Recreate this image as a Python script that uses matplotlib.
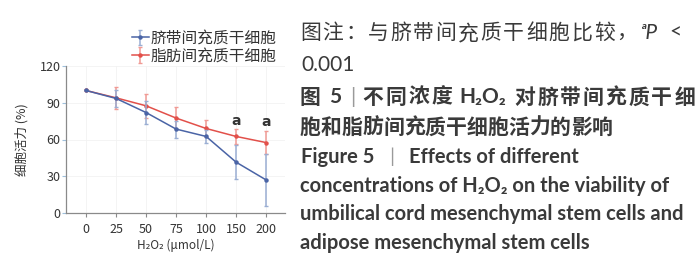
import numpy as np
import matplotlib
matplotlib.use("Agg")
import matplotlib.pyplot as plt

plt.rcParams['font.family'] = ['Noto Sans CJK SC', 'DejaVu Sans']

# H2O2 浓度 (μmol/L) 与两组细胞活力 (%)
conc = ['0', '25', '50', '75', '100', '150', '200']
ucmsc = [100, 93.5, 82, 68.5, 62.5, 41.5, 27]
ucmsc_err = [0, 7, 9.5, 7, 5, 14, 21]
adsc = [100, 94, 87.5, 77.5, 69, 62.5, 57.5]
adsc_err = [0, 9, 10, 9, 7, 6, 9.5]
sig_idx = [5, 6]
sig_y = [75.5, 74]
yticks = [0, 30, 60, 90, 120]

series_names = ['脐带间充质干细胞', '脂肪间充质干细胞']

CJK = ['Noto Sans CJK SC', 'DejaVu Sans']
LAT = ['Lato', 'DejaVu Sans']
TXT = '#3a3a3a'

fig = plt.figure(figsize=(7, 2.67), dpi=100)
renderer = fig.canvas.get_renderer()


def draw_tokens(tokens, x0, y, size, x1=None, space=0.3):
    # tokens: (文本, 样式) ；None 表示空格
    em = size * 100 / 72
    items = []
    for tok, kw in tokens:
        if tok is None:
            items.append((None, space * em))
            continue
        t = fig.text(0, 1 - y / 267, tok, ha='center', va='center', fontsize=size,
                     color=kw.get('color', TXT), fontweight=kw.get('weight', 'normal'),
                     fontstyle=kw.get('style', 'normal'), family=kw.get('family', CJK))
        if len(tok) == 1 and ord(tok) > 0x2E80:
            w = em
        else:
            w = t.get_window_extent(renderer).width + 0.12 * em
        items.append((t, w))
    total = sum(w for _, w in items)
    gap = 0
    if x1 is not None and len(items) > 1:
        gap = (x1 - x0 - total) / (len(items) - 1)
    pos = x0
    for t, w in items:
        if t is not None:
            t.set_x((pos + w / 2) / 700)
        pos += w + gap


def cjk_tokens(s, weight='normal'):
    return [(ch, {'weight': weight}) for ch in s]


ax = fig.add_axes([66 / 700, 54 / 267, 219 / 700, 147 / 267])

x = np.arange(len(conc))
blue = '#4a64a6'
red = '#e2504a'
ax.errorbar(x, ucmsc, yerr=ucmsc_err, color=blue, ecolor='#9aaed3', lw=1.1,
            elinewidth=1.1, capsize=1.5, marker='o', ms=2.2, label=series_names[0], zorder=3)
ax.errorbar(x, adsc, yerr=adsc_err, color=red, ecolor='#f09a94', lw=1.1,
            elinewidth=1.1, capsize=1.5, marker='o', ms=2.2, label=series_names[1], zorder=2)

for i, yv in zip(sig_idx, sig_y):
    ax.text(x[i], yv, 'a', ha='center', va='center', fontsize=10, fontweight='bold',
            color='#333333', family=['DejaVu Sans'])

ax.set_xlim(-0.67, 6.63)
ax.set_ylim(0, 120)
ax.set_xticks(x)
ax.set_xticklabels(conc)
ax.set_yticks(yticks)
ax.grid(True, color='#f2f2f2', lw=0.6)
ax.set_axisbelow(True)
for s in ['top', 'right']:
    ax.spines[s].set_visible(False)
for s in ['left', 'bottom']:
    ax.spines[s].set_color('#8a8a8a')
    ax.spines[s].set_linewidth(0.9)
ax.tick_params(axis='y', length=3, color='#9fc0dc', labelsize=9, labelcolor='#333333', pad=1)
ax.tick_params(axis='x', length=3, color='#8a8a8a', labelsize=9, labelcolor='#333333', pad=4)
ax.set_xlabel('H₂O₂ (μmol/L)', fontsize=8.5, color='#333333', labelpad=2)
ax.set_ylabel('细胞活力 (%)', fontsize=9, color='#333333', labelpad=8)

leg = fig.legend(loc='upper left', bbox_to_anchor=(124 / 700, 1 - 22 / 267), frameon=False,
                 fontsize=11.3, handlelength=1.1, handletextpad=0.1, labelspacing=0.05,
                 borderpad=0)
for t in leg.get_texts():
    t.set_color('#333333')

# 图注
bar = {'color': '#9a9a9a', 'family': LAT}
b = {'weight': 'bold'}
bl = {'weight': 'bold', 'family': LAT}
sp = (None, {})
line1 = cjk_tokens('图注：与脐带间充质干细胞比较，') + [
    ('ᵃP', {'style': 'italic', 'family': LAT}), sp, ('<', {'family': LAT})]
draw_tokens(line1, 300, 33, 15, x1=683)
draw_tokens([('0.001', {'family': LAT})], 300, 65, 15)
line3 = [('图', b), sp, ('5', bl), sp, ('|', bar), sp] + \
    cjk_tokens('不同浓度', 'bold') + [sp, ('H₂O₂', bl), sp] + \
    cjk_tokens('对脐带间充质干细', 'bold')
draw_tokens(line3, 300, 97, 15, x1=695, space=0.12)
draw_tokens(cjk_tokens('胞和脂肪间充质干细胞活力的影响', 'bold'), 300, 127, 15)
draw_tokens([('Figure 5', bl), sp, sp, ('|', bar), sp, sp,
             ('Effects of different', bl)], 300, 157, 14.5)
eng = ['concentrations of H₂O₂ on the viability of',
       'umbilical cord mesenchymal stem cells and',
       'adipose mesenchymal stem cells']
for s, yy in zip(eng, [186, 214, 243]):
    fig.text(300 / 700, 1 - yy / 267, s, ha='left', va='center', fontsize=14.5,
             fontweight='bold', color=TXT, family=LAT)

fig.savefig('out.png', dpi=100)
